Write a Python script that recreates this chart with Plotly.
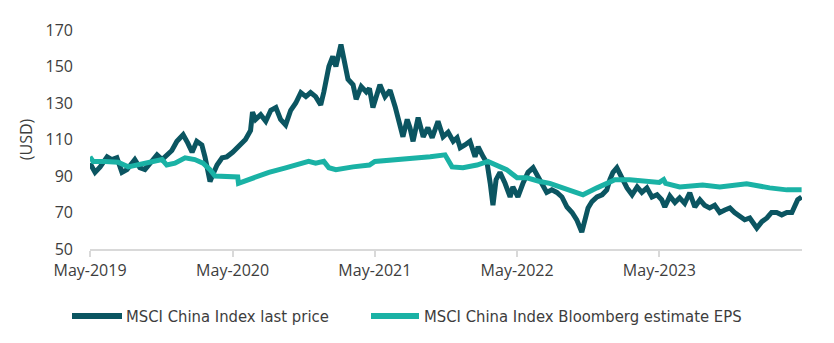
import plotly.graph_objects as go

price_dates = [
    "2019-05-01", "2019-05-14", "2019-05-27", "2019-06-14", "2019-06-26", "2019-07-09",
    "2019-07-22", "2019-08-04", "2019-08-24", "2019-09-06", "2019-09-19", "2019-10-02",
    "2019-10-20", "2019-11-02", "2019-11-14", "2019-11-27", "2019-12-10", "2019-12-26",
    "2020-01-07", "2020-01-18", "2020-01-30", "2020-02-12", "2020-02-20", "2020-03-04",
    "2020-03-11", "2020-03-22", "2020-04-04", "2020-04-16", "2020-05-01", "2020-05-14",
    "2020-05-27", "2020-06-03", "2020-06-16", "2020-06-21", "2020-06-29", "2020-07-12",
    "2020-07-25", "2020-08-07", "2020-08-20", "2020-09-01", "2020-09-14", "2020-09-27",
    "2020-10-10", "2020-10-23", "2020-11-05", "2020-11-17", "2020-11-30", "2020-12-13",
    "2020-12-21", "2021-01-03", "2021-01-13", "2021-01-21", "2021-02-03", "2021-02-11",
    "2021-02-21", "2021-03-06", "2021-03-14", "2021-03-27", "2021-04-09", "2021-04-17",
    "2021-04-26", "2021-05-14", "2021-05-27", "2021-06-09", "2021-06-22", "2021-07-12",
    "2021-07-23", "2021-07-30", "2021-08-07", "2021-08-20", "2021-09-02", "2021-09-14",
    "2021-09-25", "2021-10-10", "2021-10-23", "2021-11-05", "2021-11-18", "2021-11-28",
    "2021-12-06", "2021-12-18", "2021-12-31", "2022-01-13", "2022-01-21", "2022-02-03",
    "2022-02-13", "2022-02-21", "2022-02-28", "2022-03-08", "2022-03-18", "2022-03-31",
    "2022-04-13", "2022-04-20", "2022-05-03", "2022-05-16", "2022-05-29", "2022-06-11",
    "2022-06-21", "2022-07-04", "2022-07-16", "2022-07-29", "2022-08-11", "2022-08-24",
    "2022-09-06", "2022-09-19", "2022-10-01", "2022-10-14", "2022-10-22", "2022-10-30",
    "2022-11-09", "2022-11-22", "2022-12-05", "2022-12-17", "2022-12-25", "2023-01-02",
    "2023-01-12", "2023-01-25", "2023-02-07", "2023-02-20", "2023-03-05", "2023-03-17",
    "2023-03-30", "2023-04-12", "2023-04-25", "2023-05-07", "2023-05-15", "2023-05-28",
    "2023-06-10", "2023-06-17", "2023-06-22", "2023-07-05", "2023-07-18", "2023-07-31",
    "2023-08-13", "2023-08-25", "2023-09-07", "2023-09-20", "2023-10-03", "2023-10-16",
    "2023-10-29", "2023-11-10", "2023-11-23", "2023-12-06", "2023-12-19", "2024-01-06",
    "2024-01-19", "2024-02-01", "2024-02-13", "2024-02-26", "2024-03-10", "2024-03-23",
    "2024-04-05", "2024-04-12", "2024-04-20", "2024-04-30",
]
price_values = [
    97, 92, 95, 100.5, 99, 100,
    92, 93.5, 99, 94.5, 93.5, 97,
    101.6, 99, 101.6, 104, 109, 112.6,
    108, 103, 109, 107, 100.5, 87,
    90.7, 96, 100, 100.5, 103, 105.5,
    108, 110, 115, 125, 121, 123.6,
    120, 126, 127.5, 121, 118, 126,
    130, 135.7, 133.5, 135.7, 133.5, 129,
    136, 150, 155.5, 150, 162, 152,
    143, 140, 132, 139, 136, 138,
    127.5, 140, 133.5, 137, 128, 111.5,
    121, 116.5, 109, 122, 111.5, 116.5,
    111, 120, 111.5, 114, 109, 111,
    105.5, 107, 109, 100.5, 106, 100.5,
    97, 86, 74, 88, 92, 86,
    78.5, 84, 78.5, 86, 92, 94.5,
    90.7, 86, 81, 82.4, 81, 78.5,
    73, 70, 66, 59.3, 66, 72.5,
    76, 78.5, 79.7, 82.4, 88, 92,
    94.5, 89, 83.5, 79.7, 84, 81,
    83.5, 78.5, 79.7, 77, 73, 79,
    75.5, 77, 78, 75, 80.8, 73,
    77, 74, 72.5, 74, 70, 71.4,
    72.5, 70, 67.6, 66, 67, 61.5,
    65, 67, 70, 70, 68.7, 70,
    70, 74, 77, 78.5,
]

eps_dates = [
    "2019-05-01", "2019-05-09", "2019-06-09", "2019-07-12", "2019-08-07", "2019-09-02",
    "2019-09-28", "2019-11-02", "2019-11-14", "2019-12-05", "2019-12-31", "2020-01-25",
    "2020-02-15", "2020-03-04", "2020-03-17", "2020-04-12", "2020-05-14", "2020-05-16",
    "2020-06-21", "2020-08-02", "2020-09-14", "2020-10-28", "2020-11-12", "2020-11-30",
    "2020-12-21", "2021-01-03", "2021-01-21", "2021-03-06", "2021-04-17", "2021-05-01",
    "2021-06-09", "2021-07-30", "2021-09-20", "2021-10-28", "2021-11-05", "2021-11-15",
    "2021-12-13", "2022-01-18", "2022-02-15", "2022-03-10", "2022-04-04", "2022-05-01",
    "2022-05-26", "2022-06-28", "2022-07-24", "2022-08-26", "2022-10-01", "2022-10-17",
    "2022-11-22", "2022-12-25", "2023-01-07", "2023-02-14", "2023-03-30", "2023-05-01",
    "2023-05-12", "2023-05-17", "2023-06-22", "2023-08-20", "2023-10-03", "2023-12-11",
    "2024-02-08", "2024-03-23", "2024-04-30",
]
eps_values = [
    100.5, 98, 98, 97.5, 95, 96,
    97, 99, 96, 97, 100, 99,
    97, 93.5, 90, 89.5, 89.5, 86,
    89, 92, 94.5, 97, 98, 97,
    98, 94.5, 93.5, 95, 96, 98,
    98.5, 99.5, 100.5, 101.6, 98, 95,
    94.5, 96, 98, 96, 93.5, 89,
    89, 87, 86, 83.5, 81, 79.7,
    83.5, 87, 88, 88, 87, 86.5,
    88, 86, 84, 85, 84, 85.7,
    83.5, 82.4, 82.4,
]

series_names = ["MSCI China Index last price", "MSCI China Index Bloomberg estimate EPS"]
y_ticks = [50, 70, 90, 110, 130, 150, 170]
x_ticks = ["2019-05-01", "2020-05-01", "2021-05-01", "2022-05-01", "2023-05-01"]
x_tick_labels = ["May-2019", "May-2020", "May-2021", "May-2022", "May-2023"]

DARK = "#0b5561"
LIGHT = "#1ab2a5"
TEXT = "#3d3d3d"
FONT = "Open Sans"
LEGEND_FONT = "Liberation Sans Narrow, DejaVu Sans Condensed, Open Sans"

fig = go.Figure()
fig.add_trace(go.Scatter(x=price_dates, y=price_values, mode="lines",
                         name=series_names[0],
                         line=dict(color=DARK, width=5)))
fig.add_trace(go.Scatter(x=eps_dates, y=eps_values, mode="lines",
                         name=series_names[1],
                         line=dict(color=LIGHT, width=5)))

# manual legend (paper coordinates)
W, H, L, T = 712, 219, 90, 30
def px(xp):
    return (xp - L) / W
def py(yp):
    return (T + H - yp) / H

legend_items = [(72, 122, 124, DARK, series_names[0]), (371, 419, 422, LIGHT, series_names[1])]
for x0, x1, xt, col, name in legend_items:
    fig.add_shape(type="line", xref="paper", yref="paper", x0=px(x0), x1=px(x1),
                  y0=py(316), y1=py(316), line=dict(color=col, width=6))
    fig.add_annotation(xref="paper", yref="paper", x=px(xt), y=py(316), text=name,
                       showarrow=False, xanchor="left", yanchor="middle",
                       font=dict(family=LEGEND_FONT, size=16.5, color=TEXT))

fig.update_layout(
    width=834, height=343,
    margin=dict(l=L, r=834 - L - W, t=T, b=343 - T - H),
    paper_bgcolor="white", plot_bgcolor="white",
    font=dict(family=FONT, size=16, color=TEXT),
    showlegend=False,
    xaxis=dict(range=["2019-05-01", "2024-05-01"], tickvals=x_ticks, ticktext=x_tick_labels,
               showgrid=False, zeroline=False, showline=True, linecolor="#d9d9d9", linewidth=2,
               ticks="outside", ticklen=6, tickwidth=2, tickcolor="#d9d9d9",
               tickfont=dict(family=FONT, size=16, color=TEXT)),
    yaxis=dict(range=[50, 170], tickvals=y_ticks, showgrid=False, zeroline=False,
               showline=False, ticks="", ticklabelstandoff=16,
               title=dict(text="(USD)", standoff=8, font=dict(family=FONT, size=16, color=TEXT)),
               tickfont=dict(family=FONT, size=16, color=TEXT)),
)

fig.write_html("out.html")
